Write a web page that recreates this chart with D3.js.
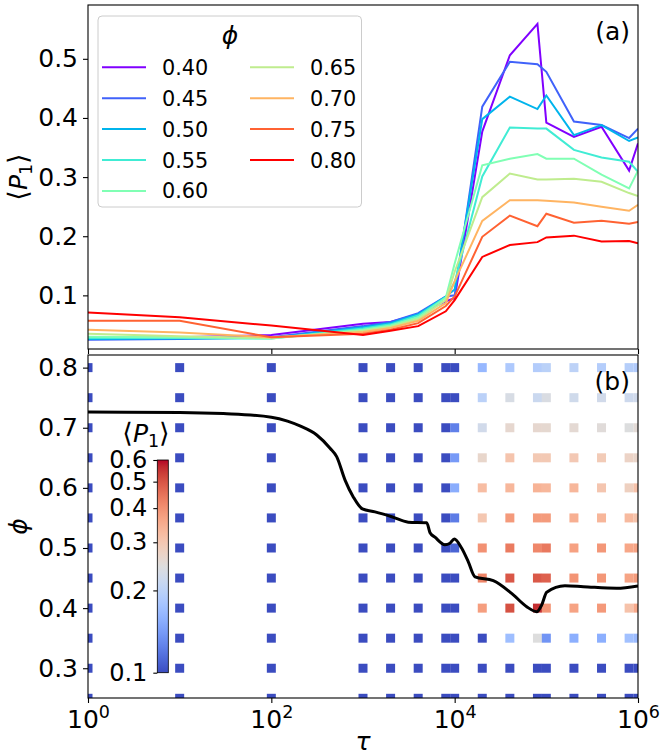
<!DOCTYPE html>
<html>
<head>
<meta charset="utf-8">
<script src="https://cdn.jsdelivr.net/npm/d3@7"></script>
<style>
  html, body { margin: 0; padding: 0; background: #fff; }
  svg text { font-family: "DejaVu Sans", sans-serif; fill: #000; }
</style>
</head>
<body>
<script>
// Relaxation times (x values shared by both panels)
const tau = [1, 10, 100, 1e3, 2e3, 4e3, 8e3, 1e4, 2e4, 4e4, 8e4, 1e5, 2e5, 4e5, 8e5, 1e6];

// Packing fractions shown as lines in panel (a)
const phiLines = [0.40, 0.45, 0.50, 0.55, 0.60, 0.65, 0.70, 0.75, 0.80];
const phiLabels = ["0.40", "0.45", "0.50", "0.55", "0.60", "0.65", "0.70", "0.75", "0.80"];

// <P1> for each packing fraction, one value per tau
const p040 = [0.028, 0.029, 0.033, 0.052, 0.055, 0.068, 0.090, 0.095, 0.377, 0.506, 0.559, 0.392, 0.368, 0.385, 0.311, 0.357];
const p045 = [0.025, 0.026, 0.029, 0.048, 0.055, 0.070, 0.098, 0.100, 0.419, 0.495, 0.491, 0.478, 0.394, 0.388, 0.366, 0.382];
const p050 = [0.026, 0.027, 0.028, 0.046, 0.053, 0.068, 0.098, 0.110, 0.398, 0.436, 0.415, 0.438, 0.371, 0.388, 0.361, 0.367];
const p055 = [0.028, 0.028, 0.027, 0.044, 0.051, 0.066, 0.097, 0.122, 0.301, 0.384, 0.382, 0.382, 0.346, 0.333, 0.326, 0.309];
const p060 = [0.030, 0.029, 0.027, 0.042, 0.049, 0.063, 0.096, 0.154, 0.320, 0.331, 0.339, 0.331, 0.331, 0.304, 0.281, 0.311];
const p065 = [0.035, 0.031, 0.028, 0.040, 0.047, 0.060, 0.092, 0.140, 0.266, 0.306, 0.296, 0.296, 0.297, 0.292, 0.273, 0.268];
const p070 = [0.042, 0.037, 0.029, 0.038, 0.045, 0.057, 0.087, 0.124, 0.226, 0.261, 0.261, 0.260, 0.257, 0.250, 0.243, 0.253];
const p075 = [0.057, 0.057, 0.029, 0.035, 0.042, 0.053, 0.082, 0.098, 0.199, 0.235, 0.217, 0.238, 0.223, 0.226, 0.221, 0.224];
const p080 = [0.071, 0.063, 0.049, 0.033, 0.040, 0.048, 0.073, 0.092, 0.165, 0.185, 0.190, 0.198, 0.201, 0.191, 0.192, 0.188];

// Extra low packing fractions that only appear in the map of panel (b)
const p025 = [0.020, 0.020, 0.021, 0.024, 0.026, 0.028, 0.032, 0.034, 0.038, 0.042, 0.045, 0.046, 0.048, 0.050, 0.052, 0.053];
const p030 = [0.022, 0.022, 0.023, 0.027, 0.030, 0.034, 0.040, 0.044, 0.055, 0.062, 0.068, 0.066, 0.070, 0.072, 0.074, 0.075];
const p035 = [0.024, 0.024, 0.025, 0.031, 0.036, 0.043, 0.058, 0.066, 0.095, 0.171, 0.245, 0.136, 0.156, 0.156, 0.174, 0.168];

// Boundary curve in panel (b)
const curveTau = [1, 10, 30, 100, 150, 205, 313, 437, 516, 637, 783, 984, 1352, 2056, 3119, 4955, 5383, 6095, 7834, 8892, 9908, 11940, 14090, 16670, 26370, 43650, 61090, 78520, 88900, 100900, 159600, 252900, 584700, 1e6];
const curvePhi = [0.726, 0.7255, 0.7235, 0.7175, 0.711, 0.703, 0.688, 0.666, 0.652, 0.613, 0.585, 0.565, 0.560, 0.552, 0.543, 0.542, 0.5255, 0.518, 0.5055, 0.508, 0.515, 0.4995, 0.477, 0.452, 0.4456, 0.422, 0.4023, 0.394, 0.405, 0.4263, 0.437, 0.4356, 0.433, 0.437];

// Tick values
const xTicks = [1, 1e2, 1e4, 1e6];
const xTickExp = ["0", "2", "4", "6"];
const yTopTicks = [0.1, 0.2, 0.3, 0.4, 0.5];
const yBotTicks = [0.3, 0.4, 0.5, 0.6, 0.7, 0.8];
const cbarTicks = [0.1, 0.2, 0.3, 0.4, 0.5, 0.6];

const seriesLines = [p040, p045, p050, p055, p060, p065, p070, p075, p080];
const mapRows = [
  {phi: 0.25, v: p025}, {phi: 0.30, v: p030}, {phi: 0.35, v: p035},
  ...phiLines.map((phi, i) => ({phi, v: seriesLines[i]}))
];

// matplotlib "rainbow" colour map
function rainbow(t) {
  const r = Math.min(1, Math.abs(2 * t - 0.5));
  const g = Math.sin(Math.PI * t);
  const b = Math.cos(Math.PI * t / 2);
  return d3.rgb(r * 255, g * 255, b * 255).formatHex();
}
// Moreland cool-warm diverging map
const cwStops = [
  [59,76,192],[68,90,204],[77,104,215],[87,117,225],[98,130,234],[108,142,241],[119,154,247],[130,165,251],
  [141,176,254],[152,185,255],[163,194,255],[174,201,253],[184,208,249],[194,213,244],[204,217,238],[213,219,230],
  [221,221,221],[229,216,209],[236,211,197],[241,204,185],[245,196,173],[247,187,160],[247,177,148],[247,166,135],
  [244,154,123],[241,141,111],[236,127,99],[229,112,88],[222,96,77],[213,80,66],[203,62,56],[192,40,47],[180,4,38]
];
const coolwarm = d3.scaleLinear()
  .domain(cwStops.map((_, i) => i / (cwStops.length - 1)))
  .range(cwStops.map(c => d3.rgb(c[0], c[1], c[2]).formatHex()))
  .interpolate(d3.interpolateRgb)
  .clamp(true);
const norm = d3.scaleLog().domain([0.1, 0.6]).range([0, 1]).clamp(true);

const W = 661, H = 755;
const svg = d3.select("body").append("svg").attr("width", W).attr("height", H);
svg.append("rect").attr("width", W).attr("height", H).attr("fill", "#fff");

const L = 88, R = 638;
const topBox = {t: 5, b: 349};
const botBox = {t: 355, b: 698};

const x = d3.scaleLog().domain([1, 1e6]).range([L, R]);
const yTop = d3.scaleLinear().domain([0.0093, 0.591]).range([topBox.b, topBox.t]);
const yBot = d3.scaleLinear().domain([0.2505, 0.821]).range([botBox.b, botBox.t]);

const defs = svg.append("defs");
defs.append("clipPath").attr("id", "clipTop").append("rect")
  .attr("x", L).attr("y", topBox.t).attr("width", R - L).attr("height", topBox.b - topBox.t);
defs.append("clipPath").attr("id", "clipBot").append("rect")
  .attr("x", L).attr("y", botBox.t).attr("width", R - L).attr("height", botBox.b - botBox.t);

const FS = 25;

function styleAxis(g, size) {
  g.select(".domain").remove();
  g.selectAll(".tick line").attr("stroke", "#000").attr("stroke-width", 1.1);
  g.selectAll(".tick text").attr("font-size", size || FS).attr("font-family", "DejaVu Sans");
}

// ---------- Panel (a) ----------
const gTop = svg.append("g");
const lineGen = d3.line().x((d, i) => x(tau[i])).y(d => yTop(d));
gTop.append("g").attr("clip-path", "url(#clipTop)")
  .selectAll("path").data(seriesLines).join("path")
  .attr("d", lineGen)
  .attr("fill", "none")
  .attr("stroke", (d, i) => rainbow(i / (phiLines.length - 1)))
  .attr("stroke-width", 2)
  .attr("stroke-linejoin", "miter");

gTop.append("g").attr("transform", `translate(${L},0)`)
  .call(d3.axisLeft(yTop).tickValues(yTopTicks).tickFormat(d3.format(".1f")).tickSize(5).tickPadding(5).tickSizeOuter(0))
  .call(styleAxis);
gTop.append("g").attr("transform", `translate(0,${topBox.b})`)
  .call(d3.axisBottom(x).tickValues(xTicks).tickFormat("").tickSize(5).tickSizeOuter(0))
  .call(styleAxis);
gTop.append("rect").attr("x", L).attr("y", topBox.t).attr("width", R - L).attr("height", topBox.b - topBox.t)
  .attr("fill", "none").attr("stroke", "#000").attr("stroke-width", 1.1);

// <P1> label: angle brackets, italic P, subscript 1
function bracketP1(sel, size) {
  sel.append("tspan").attr("font-size", size * 1.08).text("\u27E8");
  sel.append("tspan").attr("font-style", "italic").text("P");
  sel.append("tspan").attr("font-size", size * 0.7).attr("dy", size * 0.2).text("1");
  sel.append("tspan").attr("font-size", size * 1.08).attr("dy", -size * 0.2).text("\u27E9");
}
gTop.append("text")
  .attr("transform", `translate(27,${(topBox.t + topBox.b) / 2}) rotate(-90)`)
  .attr("text-anchor", "middle").attr("font-size", FS)
  .call(bracketP1, FS);

gTop.append("text").attr("x", 630).attr("y", 40).attr("text-anchor", "end")
  .attr("font-size", FS).text("(a)");

// legend
const leg = gTop.append("g");
leg.append("rect").attr("x", 98).attr("y", 16).attr("width", 263.5).attr("height", 191)
  .attr("rx", 4).attr("fill", "#fff").attr("fill-opacity", 0.8)
  .attr("stroke", "#cccccc").attr("stroke-width", 1);
leg.append("text").attr("x", 230).attr("y", 44).attr("text-anchor", "middle")
  .attr("font-size", 25).attr("font-style", "italic").text("\u03D5");
const LFS = 20.8;
phiLines.forEach((phi, i) => {
  const col = i < 5 ? 0 : 1;
  const row = i < 5 ? i : i - 5;
  const y0 = 67.3 + row * 30.9;
  const x0 = col === 0 ? 102 : 250;
  leg.append("line").attr("x1", x0).attr("x2", x0 + 44).attr("y1", y0).attr("y2", y0)
    .attr("stroke", rainbow(i / (phiLines.length - 1))).attr("stroke-width", 2);
  leg.append("text").attr("x", x0 + 60).attr("y", y0 + 7.5).attr("font-size", LFS).text(phiLabels[i]);
});

// ---------- Panel (b) ----------
const gBot = svg.append("g");
const cells = [];
mapRows.forEach(r => r.v.forEach((v, j) => cells.push({phi: r.phi, t: tau[j], v})));
const SQ = 9;
gBot.append("g").attr("clip-path", "url(#clipBot)")
  .selectAll("rect").data(cells).join("rect")
  .attr("x", d => x(d.t) - SQ / 2)
  .attr("y", d => yBot(d.phi) - SQ / 2)
  .attr("width", SQ).attr("height", SQ)
  .attr("fill", d => coolwarm(norm(d.v)));

gBot.append("path").attr("clip-path", "url(#clipBot)")
  .datum(curveTau.map((t, i) => [t, curvePhi[i]]))
  .attr("d", d3.line().x(d => x(d[0])).y(d => yBot(d[1])).curve(d3.curveMonotoneX))
  .attr("fill", "none").attr("stroke", "#000").attr("stroke-width", 3);

gBot.append("g").attr("transform", `translate(${L},0)`)
  .call(d3.axisLeft(yBot).tickValues(yBotTicks).tickFormat(d3.format(".1f")).tickSize(5).tickPadding(5).tickSizeOuter(0))
  .call(styleAxis);
const xAx = gBot.append("g").attr("transform", `translate(0,${botBox.b})`)
  .call(d3.axisBottom(x).tickValues(xTicks).tickFormat("").tickSize(5).tickSizeOuter(0))
  .call(styleAxis);
xAx.selectAll(".tick").each(function (d, i) {
  const t = d3.select(this).append("text").attr("y", 30).attr("text-anchor", "middle")
    .attr("font-size", FS).attr("fill", "#000");
  t.append("tspan").text("10");
  t.append("tspan").attr("font-size", FS * 0.7).attr("dy", -10).text(xTickExp[i]);
});
gBot.append("rect").attr("x", L).attr("y", botBox.t).attr("width", R - L).attr("height", botBox.b - botBox.t)
  .attr("fill", "none").attr("stroke", "#000").attr("stroke-width", 1.1);

gBot.append("text")
  .attr("transform", `translate(27,${(botBox.t + botBox.b) / 2}) rotate(-90)`)
  .attr("text-anchor", "middle").attr("font-size", FS).attr("font-style", "italic").text("\u03D5");
gBot.append("text").attr("x", (L + R) / 2).attr("y", 750).attr("text-anchor", "middle")
  .attr("font-size", FS).attr("font-style", "italic").text("\u03C4");
gBot.append("text").attr("x", 630).attr("y", 390).attr("text-anchor", "end")
  .attr("font-size", FS).text("(b)");

// colour bar
const cb = {x: 157.3, w: 11, t: 460, b: 672.7};
const grad = defs.append("linearGradient").attr("id", "cwGrad")
  .attr("x1", 0).attr("y1", 1).attr("x2", 0).attr("y2", 0);
cwStops.forEach((c, i) => grad.append("stop")
  .attr("offset", i / (cwStops.length - 1))
  .attr("stop-color", d3.rgb(c[0], c[1], c[2]).formatHex()));
gBot.append("rect").attr("x", cb.x).attr("y", cb.t).attr("width", cb.w).attr("height", cb.b - cb.t)
  .attr("fill", "url(#cwGrad)").attr("stroke", "#000").attr("stroke-width", 0.8);
const cScale = d3.scaleLog().domain([0.1, 0.6]).range([cb.b, cb.t]);
gBot.append("g").attr("transform", `translate(${cb.x},0)`)
  .call(d3.axisLeft(cScale).tickValues(cbarTicks).tickFormat(d3.format(".1f")).tickSize(4).tickPadding(6).tickSizeOuter(0))
  .call(styleAxis, 24);
gBot.append("text").attr("x", 146).attr("y", 442).attr("text-anchor", "middle")
  .attr("font-size", FS).call(bracketP1, FS);
</script>
</body>
</html>
